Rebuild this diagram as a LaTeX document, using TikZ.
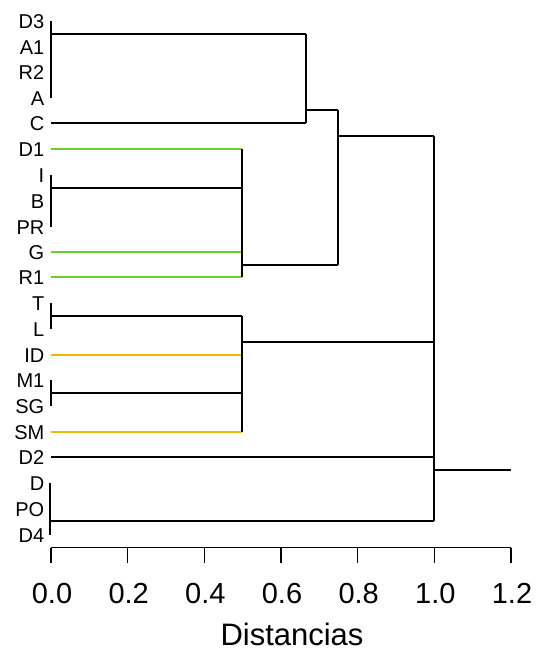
\documentclass[tikz,border=0pt]{standalone}
\usepackage{fontspec}
\setmainfont{Liberation Sans}
\definecolor{leafgreen}{RGB}{105,210,40}
\definecolor{leafgold}{RGB}{235,185,0}
\tikzset{
  lbl/.style={anchor=base east,inner sep=0pt,font=\fontsize{20}{24}\selectfont},
  ticklbl/.style={anchor=base,inner sep=0pt,font=\fontsize{29}{34}\selectfont},
  ttl/.style={anchor=base,inner sep=0pt,font=\fontsize{31}{36}\selectfont},
  br/.style={line width=1.3pt,black},
  bar/.style={line width=2pt,black},
  grn/.style={line width=1.4pt,leafgreen},
  gld/.style={line width=1.4pt,leafgold},
  axis/.style={line width=1.2pt,black}
}
\begin{document}
\begin{tikzpicture}[x=1pt,y=-1pt]
\useasboundingbox[fill=white] (0,0) rectangle (541,654);
% leaf labels
\foreach \n/\yy in {D3/21,A1/47,R2/72.5,A/98,C/123,D1/149,I/175,B/201,PR/227,G/252,R1/277,T/303,L/329,ID/355,M1/380,SG/406,SM/432,D2/457,D/483,PO/509,D4/535}{
  \node[lbl] (l\n) at (44.5,\yy+7.2) {\n};
  \coordinate (s\n) at (51,\yy);
}
% junction coordinates
\coordinate (j1) at (306,34);   % D3..A group joined with C
\coordinate (j1b) at (306,123);
\coordinate (j1m) at (306,110);
\coordinate (j2t) at (242,149);
\coordinate (j2b) at (242,277);
\coordinate (j2m) at (242,265);
\coordinate (j3t) at (338,110);
\coordinate (j3b) at (338,265);
\coordinate (j3m) at (338,136);
\coordinate (j4t) at (242,316);
\coordinate (j4b) at (242,432);
\coordinate (j4m) at (242,342);
\coordinate (j5t) at (434,136);
\coordinate (j5b) at (434,521);
\coordinate (root) at (434,470);
\coordinate (rootend) at (511,470);
% cluster D3-A
\draw[bar] (sD3) -- (sA);
\draw[br] (51,34) -- (j1);
\draw[br] (sC) -- (j1b);
\draw[br] (j1) -- (j1b);
\draw[br] (j1m) -- (j3t);
% cluster D1..R1
\draw[grn] (sD1) -- (j2t);
\draw[bar] (sI) -- (sPR);
\draw[br] (51,188) -- (242,188);
\draw[grn] (sG) -- (sG -| j2t);
\draw[grn] (sR1) -- (j2b);
\draw[br] (j2t) -- (j2b);
\draw[br] (j2m) -- (j3b);
\draw[br] (j3t) -- (j3b);
\draw[br] (j3m) -- (j5t);
% cluster T..SM
\draw[bar] (sT) -- (sL);
\draw[br] (51,316) -- (j4t);
\draw[gld] (sID) -- (sID -| j4t);
\draw[bar] (sM1) -- (sSG);
\draw[br] (51,393) -- (242,393);
\draw[gld] (sSM) -- (j4b);
\draw[br] (j4t) -- (j4b);
\draw[br] (j4m) -- (j4m -| j5t);
% D2
\draw[br] (sD2) -- (sD2 -| j5t);
% D-D4
\draw[bar] (50,483) -- (50,535);
\draw[br] (50,521) -- (j5b);
% 1.0 join and root
\draw[line width=1.8pt] (j5t) -- (j5b);
\draw[br] (root) -- (rootend);
% axis
\coordinate (ax0) at (51,547.5);
\coordinate (ax1) at (511,547.5);
\draw[axis] (ax0) -- (ax1);
\foreach \k/\t in {0/0.0,1/0.2,2/0.4,3/0.6,4/0.8,5/1.0,6/1.2}{
  \draw[axis] (51+76.667*\k,547.5) -- (51+76.667*\k,563);
  \node[ticklbl] (t\k) at (52+76.667*\k,603.5) {\t};
}
\node[ttl] (title) at (292,645) {Distancias};
\end{tikzpicture}
\end{document}
